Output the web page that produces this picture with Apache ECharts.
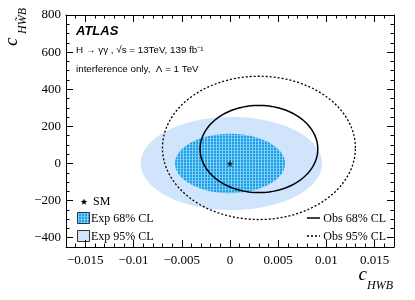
<!DOCTYPE html>
<html>
<head>
<meta charset="utf-8">
<script src="https://cdn.jsdelivr.net/npm/echarts@6/dist/echarts.min.js"></script>
<style>html,body{margin:0;padding:0;background:#fff;}#c{width:415px;height:300px;}</style>
</head>
<body>
<div id="c"></div>
<script>
// ---- data ----
const contourNames = ['Exp 95% CL', 'Exp 68% CL', 'Obs 95% CL', 'Obs 68% CL'];
const centerX = [0.00015, 0.0, 0.0030, 0.0030];
const centerY = [0, 0, 84, 78];
const halfWidthX = [0.0094, 0.0057, 0.0100, 0.0061];
const halfHeightY = [251, 160, 386, 235];
const smPoint = [0, 0];
const xTickLabels = [-0.015, -0.01, -0.005, 0, 0.005, 0.01, 0.015];
const yTickLabels = [-400, -200, 0, 200, 400, 600, 800];
const xMin = -0.017, xMax = 0.017, yMin = -450, yMax = 800;

const xMinor = [];
for (let i = -17; i <= 17; i++) xMinor.push(i / 1000);
const yMinor = [];
for (let v = -450; v <= 800; v += 50) yMinor.push(v);

// pattern for expected 68% region
const pc = document.createElement('canvas');
pc.width = 3; pc.height = 3;
const g = pc.getContext('2d');
g.fillStyle = '#1c9de6'; g.fillRect(0, 0, 3, 3);
g.fillStyle = '#5fc2f2'; g.fillRect(0, 0, 3, 1);
g.fillStyle = '#86d3f7'; g.fillRect(0, 0, 1, 3);
const pattern = { image: pc, repeat: 'repeat' };

const styles = [
  { fill: '#d0e5fb', stroke: null },
  { fill: pattern, stroke: null },
  { fill: 'none', stroke: '#000', lineWidth: 1.3, lineDash: [2, 2] },
  { fill: 'none', stroke: '#000', lineWidth: 1.5 }
];

const chart = echarts.init(document.getElementById('c'), null, { renderer: 'canvas' });
const fmt = v => (Math.abs(v) < 1e-12 ? '0' : (v < 0 ? '\u2212' : '') + String(Math.abs(v)));
const tickStyle = { color: '#000', width: 1 };
const labelFont = { color: '#000', fontFamily: 'Liberation Serif', fontSize: 13 };

function xAxisDef(pos, major) {
  return {
    type: 'value', position: pos, min: xMin, max: xMax, gridIndex: 0,
    axisLine: { show: major, onZero: false, lineStyle: { color: '#000', width: 1 } },
    axisTick: { show: true, inside: true, length: major ? 7 : 3.5, customValues: major ? xTickLabels : xMinor, lineStyle: tickStyle },
    axisLabel: Object.assign({ show: major && pos === 'bottom', customValues: xTickLabels, formatter: fmt, margin: 7 }, labelFont),
    splitLine: { show: false }
  };
}
function yAxisDef(pos, major) {
  return {
    type: 'value', position: pos, min: yMin, max: yMax, gridIndex: 0,
    axisLine: { show: major, onZero: false, lineStyle: { color: '#000', width: 1 } },
    axisTick: { show: true, inside: true, length: major ? 7 : 3.5, customValues: major ? yTickLabels : yMinor, lineStyle: tickStyle },
    axisLabel: Object.assign({ show: major && pos === 'left', customValues: yTickLabels, formatter: fmt, margin: 5 }, labelFont),
    splitLine: { show: false }
  };
}

const contourData = contourNames.map((n, i) => ({ name: n, value: [centerX[i], centerY[i], halfWidthX[i], halfHeightY[i], i] }));

function starPts(cx, cy, R, r) {
  const p = [];
  for (let k = 0; k < 10; k++) {
    const a = -Math.PI / 2 + k * Math.PI / 5;
    const rr = k % 2 === 0 ? R : r;
    p.push([cx + rr * Math.cos(a), cy + rr * Math.sin(a)]);
  }
  return p;
}

const serifText = { fill: '#000', fontFamily: 'Liberation Serif', fontSize: 12 };

chart.setOption({
  animation: false,
  grid: { left: 66, right: 21, top: 15, bottom: 53, containLabel: false },
  xAxis: [xAxisDef('bottom', true), xAxisDef('bottom', false), xAxisDef('top', true), xAxisDef('top', false)],
  yAxis: [yAxisDef('left', true), yAxisDef('left', false), yAxisDef('right', true), yAxisDef('right', false)],
  series: [
    {
      type: 'custom', xAxisIndex: 0, yAxisIndex: 0, clip: true,
      data: contourData,
      renderItem: function (params, api) {
        const cx = api.value(0), cy = api.value(1), rx = api.value(2), ry = api.value(3), idx = api.value(4);
        const pts = [];
        for (let k = 0; k < 144; k++) {
          const t = k / 144 * 2 * Math.PI;
          pts.push(api.coord([cx + rx * Math.cos(t), cy + ry * Math.sin(t)]));
        }
        const s = styles[idx];
        const style = { fill: s.fill };
        if (s.stroke) { style.stroke = s.stroke; style.lineWidth = s.lineWidth; if (s.lineDash) style.lineDash = s.lineDash; }
        return { type: 'polygon', shape: { points: pts }, style: style, z2: idx };
      }
    },
    {
      type: 'scatter', xAxisIndex: 0, yAxisIndex: 0, z: 5,
      symbol: 'path://M50,0 L61,35 L98,35 L68,57 L79,91 L50,70 L21,91 L32,57 L2,35 L39,35 Z',
      symbolSize: 7, itemStyle: { color: '#000' },
      data: [smPoint]
    }
  ],
  graphic: [
    { type: 'text', left: 76, top: 25, style: { text: 'ATLAS', fill: '#000', fontFamily: 'Liberation Sans', fontWeight: 'bold', fontStyle: 'italic', fontSize: 13 } },
    { type: 'text', left: 76, top: 45, style: { text: 'H \u2192 \u03b3\u03b3 , \u221as = 13TeV, 139 fb\u207b\u00b9', fill: '#000', fontFamily: 'Liberation Sans', fontSize: 9.8 } },
    { type: 'text', left: 76, top: 64, style: { text: 'interference only,  \u039b = 1 TeV', fill: '#000', fontFamily: 'Liberation Sans', fontSize: 9.8 } },
    // left legend
    { type: 'polygon', shape: { points: starPts(84, 202, 3.5, 1.4) }, style: { fill: '#000' } },
    { type: 'text', x: 93, y: 202, style: Object.assign({ text: 'SM', verticalAlign: 'middle' }, serifText) },
    { type: 'rect', shape: { x: 77.5, y: 212.5, width: 12, height: 11 }, style: { fill: pattern, stroke: '#234', lineWidth: 1 } },
    { type: 'text', x: 91, y: 218.5, style: Object.assign({ text: 'Exp 68% CL', verticalAlign: 'middle' }, serifText) },
    { type: 'rect', shape: { x: 77.5, y: 230.5, width: 12, height: 11 }, style: { fill: '#d0e5fb', stroke: '#333', lineWidth: 1 } },
    { type: 'text', x: 91, y: 236.5, style: Object.assign({ text: 'Exp 95% CL', verticalAlign: 'middle' }, serifText) },
    // right legend
    { type: 'line', shape: { x1: 307, y1: 218, x2: 320, y2: 218 }, style: { stroke: '#000', lineWidth: 1.5 } },
    { type: 'text', x: 386, y: 218.5, style: Object.assign({ text: 'Obs 68% CL', verticalAlign: 'middle', align: 'right' }, serifText) },
    { type: 'line', shape: { x1: 307, y1: 236, x2: 320, y2: 236 }, style: { stroke: '#000', lineWidth: 1.3, lineDash: [2, 2] } },
    { type: 'text', x: 386, y: 236.5, style: Object.assign({ text: 'Obs 95% CL', verticalAlign: 'middle', align: 'right' }, serifText) },
    // x title
    { type: 'text', x: 367, y: 284, style: { text: 'c', fill: '#000', fontFamily: 'Liberation Serif', fontStyle: 'italic', fontSize: 19, align: 'right', verticalAlign: 'bottom' } },
    { type: 'text', x: 367, y: 292, style: { text: 'HWB', fill: '#000', fontFamily: 'Liberation Serif', fontStyle: 'italic', fontSize: 12, align: 'left', verticalAlign: 'bottom' } },
    // y title (rotated)
    { type: 'text', x: 21, y: 46, rotation: Math.PI / 2, style: { text: 'c', fill: '#000', fontFamily: 'Liberation Serif', fontStyle: 'italic', fontSize: 19, align: 'left', verticalAlign: 'bottom' } },
    { type: 'text', x: 29, y: 34, rotation: Math.PI / 2, style: { text: 'HW\u0303B', fill: '#000', fontFamily: 'Liberation Serif', fontStyle: 'italic', fontSize: 12, align: 'left', verticalAlign: 'bottom' } }
  ]
});
</script>
</body>
</html>
